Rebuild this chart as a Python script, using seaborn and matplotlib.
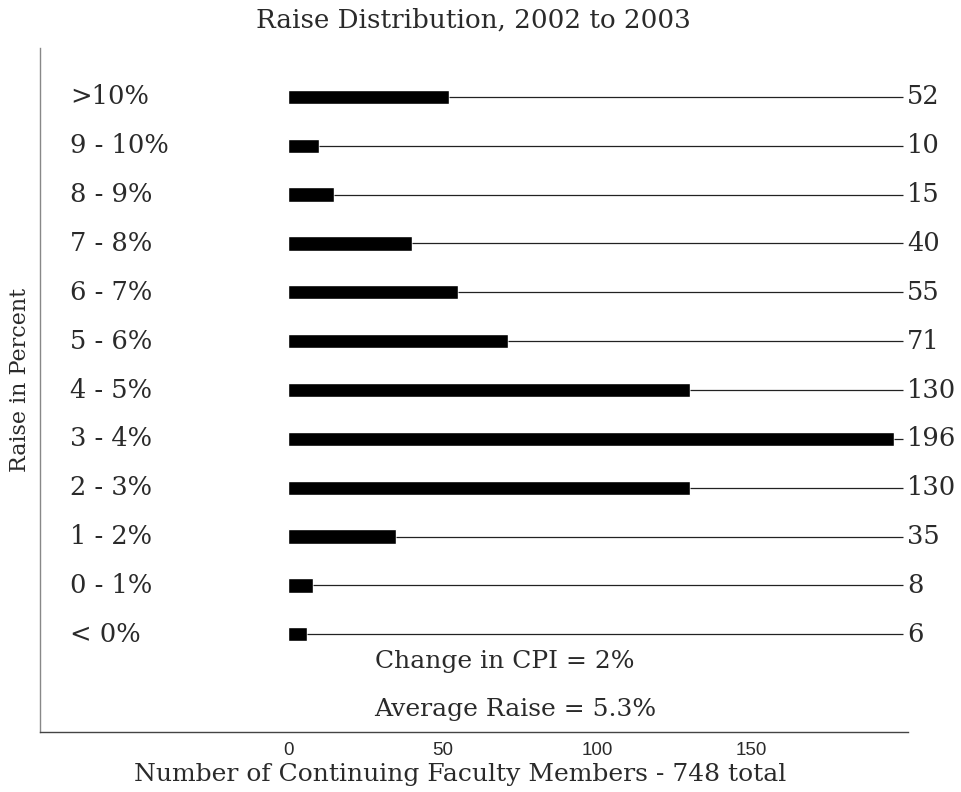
import matplotlib
matplotlib.use("Agg")
import matplotlib.pyplot as plt
import seaborn as sns
import pandas as pd

categories = [">10%", "9 - 10%", "8 - 9%", "7 - 8%", "6 - 7%", "5 - 6%",
              "4 - 5%", "3 - 4%", "2 - 3%", "1 - 2%", "0 - 1%", "< 0%"]
counts = [52, 10, 15, 40, 55, 71, 130, 196, 130, 35, 8, 6]
xticks = [0, 50, 100, 150]
notes = ["Change in CPI = 2%", "Average Raise = 5.3%"]

sns.set_theme(style="white")
plt.rcParams['font.family'] = ['DejaVu Serif']

df = pd.DataFrame({"cat": categories, "n": counts})

fig = plt.figure(figsize=(9.61, 7.92), dpi=100)
ax = fig.add_axes([40/961, 1-732/792, (908-40)/961, (732-48)/792])

sns.barplot(data=df, x="n", y="cat", order=categories, color="black",
            width=0.29, saturation=1, ax=ax, orient="h")

txt = "#2a2a2a"
line_end = 199.0
ax.hlines(range(len(categories)), counts, line_end, color="#222222", lw=0.9)
for i, v in enumerate(counts):
    ax.text(line_end + 1.2, i, str(v), va="center", ha="left", fontsize=18.5,
            family="DejaVu Serif", color=txt)
    ax.text(-70.5, i, categories[i], va="center", ha="left", fontsize=18.5,
            family="DejaVu Serif", color=txt)

ax.text(28.2, 11.55, notes[0], va="center", ha="left", fontsize=18,
        family="DejaVu Serif", color=txt)
ax.text(27.8, 12.53, notes[1], va="center", ha="left", fontsize=18,
        family="DejaVu Serif", color=txt)

ax.set_xlim(-80.3, 200.6)
ax.set_ylim(13.0, -1.0)
ax.set_yticks([])
ax.set_xticks(xticks)
ax.set_xticklabels([str(t) for t in xticks], family="Liberation Sans", fontsize=13.5)
ax.tick_params(axis="x", direction="in", length=5, width=0.8, color="#666666",
               pad=7, labelcolor=txt)
ax.set_xlabel("")
ax.set_ylabel("")
for s in ["top", "right"]:
    ax.spines[s].set_visible(False)
ax.spines["left"].set_color("#888888")
ax.spines["bottom"].set_color("#444444")
ax.spines["left"].set_linewidth(1.0)
ax.spines["bottom"].set_linewidth(1.0)

fig.text(473/961, 1-20/792, "Raise Distribution, 2002 to 2003", ha="center",
         va="center", fontsize=18.8, family="DejaVu Serif", color=txt)
fig.text(460/961, 1-775/792, "Number of Continuing Faculty Members - 748 total",
         ha="center", va="center", fontsize=18, family="DejaVu Serif",
         color=txt)
fig.text(20/961, 1-380/792, "Raise in Percent", ha="center", va="center",
         rotation=90, fontsize=16, family="DejaVu Serif", color=txt)

fig.savefig("out.png", dpi=100, facecolor="white")
